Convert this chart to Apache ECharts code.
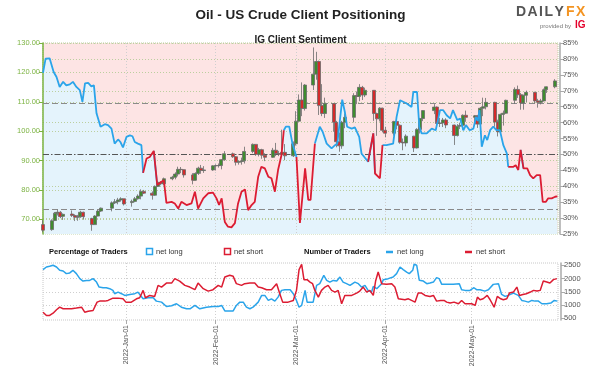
<!DOCTYPE html>
<html><head><meta charset="utf-8">
<script src="https://cdn.jsdelivr.net/npm/echarts@6/dist/echarts.min.js"></script>
<style>html,body{margin:0;padding:0;background:#fff}#c{width:601px;height:373px}</style>
</head><body><div id="c"></div>
<script>
// ---------------- DATA ----------------
const titleText = 'Oil - US Crude Client Positioning';
const subTitleText = 'IG Client Sentiment';
const axisStart = '2021-12-03';
const axisEnd = '2022-05-31';
const monthTicks = ['2022-01-01','2022-02-01','2022-03-01','2022-04-01','2022-05-01'];
const monthTickLabels = ['2022-Jan-01','2022-Feb-01','2022-Mar-01','2022-Apr-01','2022-May-01'];
const priceTicks = [70, 80, 90, 100, 110, 120, 130];
const pctGridTicks = [30, 40, 60, 70, 80];
const traderTicks = [500, 1000, 1500, 2000, 2500];
const traderGridTicks = [1000, 1500, 2000];

const candleDates = [
 '2021-12-03','2021-12-06','2021-12-07','2021-12-08','2021-12-09','2021-12-10','2021-12-13','2021-12-14','2021-12-15','2021-12-16','2021-12-17','2021-12-20','2021-12-21','2021-12-22','2021-12-23','2021-12-27','2021-12-28','2021-12-29','2021-12-30','2021-12-31',
 '2022-01-03','2022-01-04','2022-01-05','2022-01-06','2022-01-07','2022-01-10','2022-01-11','2022-01-12','2022-01-13','2022-01-14','2022-01-17','2022-01-18','2022-01-19','2022-01-20','2022-01-21','2022-01-24','2022-01-25','2022-01-26','2022-01-27','2022-01-28','2022-01-31',
 '2022-02-01','2022-02-02','2022-02-03','2022-02-04','2022-02-07','2022-02-08','2022-02-09','2022-02-10','2022-02-11','2022-02-14','2022-02-15','2022-02-16','2022-02-17','2022-02-18','2022-02-21','2022-02-22','2022-02-23','2022-02-24','2022-02-25','2022-02-28',
 '2022-03-01','2022-03-02','2022-03-03','2022-03-04','2022-03-07','2022-03-08','2022-03-09','2022-03-10','2022-03-11','2022-03-14','2022-03-15','2022-03-16','2022-03-17','2022-03-18','2022-03-21','2022-03-22','2022-03-23','2022-03-24','2022-03-25','2022-03-28','2022-03-29','2022-03-30','2022-03-31',
 '2022-04-01','2022-04-04','2022-04-05','2022-04-06','2022-04-07','2022-04-08','2022-04-11','2022-04-12','2022-04-13','2022-04-14','2022-04-18','2022-04-19','2022-04-20','2022-04-21','2022-04-22','2022-04-25','2022-04-26','2022-04-27','2022-04-28','2022-04-29',
 '2022-05-02','2022-05-03','2022-05-04','2022-05-05','2022-05-06','2022-05-09','2022-05-10','2022-05-11','2022-05-12','2022-05-13','2022-05-16','2022-05-17','2022-05-18','2022-05-19','2022-05-20','2022-05-23','2022-05-24','2022-05-25','2022-05-26','2022-05-27','2022-05-30'
];
const openPx = [
 68.2,66.5,69.6,72.1,72.4,71.0,71.8,71.3,70.7,70.9,72.4,70.3,68.2,71.1,72.8,73.8,75.6,76.0,76.6,77.0,
 75.7,76.1,77.0,77.9,79.5,78.9,78.2,81.2,82.6,82.1,83.8,84.3,85.4,87.0,86.9,85.1,83.3,85.6,87.4,86.6,86.8,
 88.2,88.3,88.3,90.3,92.3,91.3,89.4,89.7,89.9,93.1,95.5,92.1,93.7,91.8,91.1,93.5,92.4,92.1,92.8,91.6,
 95.7,103.4,110.6,107.7,115.7,119.4,123.7,108.7,106.0,109.3,103.0,96.4,95.0,103.0,104.7,112.1,111.8,114.9,112.3,113.9,106.0,104.2,107.8,
 100.3,99.3,103.3,102.0,96.2,96.0,98.3,94.3,100.6,104.3,107.0,108.2,102.6,102.8,103.8,102.1,98.5,101.7,102.0,105.4,
 104.7,105.2,102.4,107.8,108.3,109.8,103.1,99.8,105.7,106.1,110.5,114.2,112.4,109.6,112.2,113.2,110.3,109.8,110.3,114.1,115.1
];
const closePx = [
 66.3,69.5,72.1,72.4,70.9,71.7,71.3,70.7,70.9,72.4,70.9,68.2,71.1,72.8,73.8,75.6,76.0,76.6,77.0,75.2,
 76.1,77.0,77.9,79.5,78.9,78.2,81.2,82.6,82.1,83.8,84.3,85.4,87.0,86.9,85.1,83.3,85.6,87.4,86.6,86.8,88.2,
 88.3,88.3,90.3,92.3,91.3,89.4,89.7,89.9,93.1,95.5,92.1,93.7,91.8,91.1,93.5,92.4,92.1,92.8,91.6,95.7,
 103.4,110.6,107.7,115.7,119.4,123.7,108.7,106.0,109.3,103.0,96.4,95.0,103.0,104.7,112.1,111.8,114.9,112.3,113.9,106.0,104.2,107.8,100.3,
 99.3,103.3,102.0,96.2,96.0,98.3,94.3,100.6,104.3,107.0,108.2,102.6,102.8,103.8,102.1,98.5,101.7,102.0,105.4,104.7,
 105.2,102.4,107.8,108.3,109.8,103.1,99.8,105.7,106.1,110.5,114.2,112.4,109.6,112.2,113.2,110.3,109.8,110.3,114.1,115.1,117.1
];
const lowPx = [
 65.6,66.1,69.4,71.3,70.4,69.8,70.8,69.4,69.5,70.5,69.9,66.1,68.1,71.0,72.5,72.7,75.2,75.1,76.0,74.7,
 74.3,75.8,76.7,76.8,78.6,76.7,78.0,81.0,81.6,81.6,83.3,83.6,84.6,85.7,84.2,81.9,83.1,85.1,85.5,85.8,86.5,
 86.6,87.6,87.0,89.9,90.9,88.3,88.6,88.6,89.0,92.5,91.6,91.4,90.6,89.8,90.9,91.5,91.5,91.9,90.1,91.2,
 95.1,103.2,105.1,107.0,114.0,117.5,105.5,105.1,104.5,99.8,94.5,93.0,94.0,101.0,103.0,109.2,110.2,110.6,111.6,103.5,98.4,103.3,99.6,
 97.9,98.5,100.6,95.7,93.5,94.8,92.9,94.1,99.2,103.4,105.8,101.9,101.4,101.4,101.0,95.3,98.2,100.7,100.5,103.2,
 101.8,101.1,102.3,105.1,107.4,101.5,98.2,99.7,101.9,105.9,109.3,111.3,107.3,107.3,109.9,109.5,108.0,109.1,110.1,113.0,114.6
];
const highPx = [
 69.7,70.0,72.5,73.3,72.8,72.0,73.0,71.7,71.5,72.9,72.6,70.5,71.4,73.2,74.0,76.1,76.9,77.3,77.5,77.0,
 76.7,77.6,78.5,80.2,80.0,79.5,81.5,83.0,83.0,84.2,84.8,86.0,87.9,87.8,87.0,85.7,86.0,87.9,88.5,88.1,88.4,
 88.7,89.0,90.4,93.2,92.7,91.5,90.0,91.0,94.7,95.8,95.6,94.3,94.0,92.5,94.3,96.0,93.3,100.5,95.6,96.5,
 106.8,112.5,116.6,116.0,128.5,127.0,124.0,116.0,111.4,109.5,103.5,99.5,103.5,106.0,112.9,113.5,116.0,115.4,114.8,114.0,106.3,108.2,108.0,
 101.5,103.5,104.4,102.3,97.5,98.9,98.4,101.0,104.5,107.1,109.2,108.4,104.5,104.5,104.4,102.2,102.4,102.9,105.7,107.0,
 105.5,105.5,108.2,111.4,111.3,110.0,103.9,106.0,107.0,110.7,114.9,115.5,113.0,112.4,113.8,113.4,111.0,111.0,114.5,115.2,117.7
];

// net-long share of clients (%), x = days after 2021-12-03
const sentimentDays = [0,0.9,2.3,2.9,3.7,4.7,5.8,7,8.1,9.3,10.4,11.6,12.8,13.7,14.6,15.7,16.8,17.7,18.6,20,21.5,22.6,23.8,24.9,26.1,26.9,27.8,29,30.2,31.1,31.9,33,34.2,34.8,36,37.1,37.7,38.5,39.7,41.2,42,42.9,44.7,45.8,47,48.1,49.9,51.6,52.8,53.9,55.7,57.4,59.1,60.3,61.2,62.1,63.2,64.3,65.5,66.7,67.8,69,70.2,71.3,72.5,73.6,74.8,75.9,77.1,78.3,79.4,80.6,81.7,82.9,83.7,84.4,85.6,86.7,88.1,89.3,89.9,91.1,92.2,93,94.5,95.1,96.2,97.2,98.6,100.3,101.5,102.3,103.2,104,104.9,105.7,107.3,108.4,109.9,110.7,113,114.8,115.4,117.1,118,119.4,121.7,122.9,124.1,126.4,128.1,128.7,129.3,130,130.8,131.6,133.4,135.1,136.5,138,139.1,140.3,141.5,142.5,143.1,144,145,146.1,147,148.3,149.6,150.5,151.1,151.7,152.5,153.6,154.4,155.4,156.5,157.6,158.8,160,161.2,161.7,163.5,164.3,165.2,166,167,168.3,169.3,170.4,171.6,172.8,173.7,174.8,175.6,176.8,178,178.8];
const sentimentPct = [75.6,80.1,80.2,79.6,75.9,74.3,71.2,72.8,71.7,72.0,72.8,71.2,70.2,66.5,72.3,72.5,71.4,71.7,62.9,58.7,59.5,59.2,58.1,53.4,54.7,53.9,52.2,55.5,56.0,55.7,53.9,53.4,52.9,44.2,48.7,49.2,48.7,51.1,40.4,41.4,41.9,34.8,35.1,34.6,33.0,35.1,34.1,34.6,38.3,33.0,36.2,37.8,38.0,36.2,34.1,36.2,28.8,27.3,27.1,28.4,34.6,38.3,39.0,32.5,34.1,35.1,43.0,46.1,45.6,43.0,42.5,38.3,45.1,49.8,57.6,58.7,58.7,53.4,49.2,28.5,28.1,45.6,35.7,35.7,53.4,53.9,58.7,57.1,53.4,51.9,52.9,53.4,60.8,67.2,63.4,58.7,58.1,58.5,55.5,50.3,47.7,56.6,44.0,42.5,52.9,52.9,53.4,61.8,67.0,66.0,64.9,69.6,70.2,69.6,58.7,56.6,56.6,58.1,57.6,63.9,63.9,62.3,61.3,63.9,63.9,60.8,61.3,57.6,59.2,57.6,58.1,61.8,60.5,63.9,52.4,56.0,54.5,57.6,58.7,57.6,57.6,52.9,50.3,46.1,46.1,46.6,45.1,51.4,45.6,45.6,43.5,42.5,43.5,43.5,35.1,35.1,36.2,36.2,36.7,36.8];

// number of traders, x = days after 2021-12-03
const longDays = [0,1.2,2.3,3.5,4.7,5.8,7,8.1,9.3,10.4,11.6,12.8,13.9,15.1,16.2,17.4,18.6,19.5,20.9,22,23.2,24.3,24.9,26.1,27.3,28.4,30.2,31.9,33,33.9,34.8,36.5,38.3,39.4,41.2,42.9,44.7,46.4,48.1,49.9,51.1,52.8,54.5,56.8,59.1,60.9,62.1,63.2,64.9,66.1,67.2,68.4,69.6,70.7,71.9,73,74.8,76,77.1,78.3,79.4,80.6,81.7,82.9,84.1,85.9,87,88.1,89,89.9,91.1,91.8,92.8,93.9,95.1,96.2,97.6,98.6,99.7,100.9,102.1,103.2,104.3,105.5,106.7,108.4,109.6,110.7,111.9,113,114.2,114.8,116,117.7,118.3,120,121.7,122.9,124.1,125.2,126.4,127.3,128.5,129,129.9,130.8,132.2,133.4,134.5,135.7,136.8,137.7,138.6,140.3,142.6,144.7,145.5,146.7,148.4,149.8,150.7,151.9,153.6,154.8,156.5,158.3,159.4,160.6,161.7,163.5,165.2,166.4,167.5,168.7,169.9,171,172.2,173.4,175.1,176.5,177.7,178.8];
const longTraders = [2341,2439,2466,2504,2439,2314,2290,2189,2215,2314,2189,2000,1909,1934,1934,2000,1871,1682,1657,1657,1621,1557,1432,1494,1432,1367,1405,1432,1492,1367,1242,1280,1280,1152,1114,951,976,1053,924,864,864,989,864,924,951,951,989,784,784,784,989,1114,1114,924,864,924,1114,1367,1367,1178,1240,1152,1303,1557,1583,1583,1432,1178,924,989,1557,1114,1114,1114,1746,1811,2125,1934,1871,1934,1909,2061,1871,1811,1746,1871,1811,1682,1746,1557,1494,1708,1621,1811,1962,2000,2061,2189,2440,2341,2250,2189,2314,2541,2504,1936,1909,1811,1833,1871,2038,2000,1784,1784,1784,1811,1583,1557,1557,1657,1583,1583,1530,1583,1784,1811,1405,1330,1367,1455,1367,1178,1152,1114,1178,1152,1152,1053,1053,1078,1178,1152];
const shortDays = [0,1.2,2.3,3.5,4.7,5.8,7,8.1,9.9,11.6,13.4,14.5,15.7,17.4,18.8,19.7,21.5,22.6,24.3,26.1,27.8,28.8,30.7,32.5,33.6,34.8,35.6,37.1,38.8,40,41.2,42.9,44.7,45.8,47.5,49.3,51,52.8,53.9,54.5,55.7,57.4,59.1,60.9,62.1,63.2,64.9,66.1,67.2,69,70.1,71.9,73.6,74.8,76,77.7,79.4,81.2,82.3,83.3,85.2,87,88.1,89,89.9,90.7,91.8,92.8,93.7,94.5,95.7,96.8,98,99.1,100.3,101.5,102.6,103.8,104.9,105.5,107.3,109,110.1,111.3,112.5,113.6,114.8,115.6,116.5,117.7,119.4,121.2,122.3,123.5,124.1,125.8,127,128.1,129.3,130.4,131.6,132.8,134.5,135.7,136.8,138.2,139.4,140.3,141.5,142.9,144.4,145.5,146.7,149,150.2,151,151.9,153,154.4,155.4,156.8,157.9,159.1,160,161.2,162.1,163.5,164.7,165.6,166.8,168,169.4,170.5,171.7,172.8,173.9,175.1,176.2,177.4,178.6];
const shortTraders = [735,610,610,697,826,924,864,864,864,889,924,735,773,798,1114,1152,1152,1178,1265,1265,1240,1114,1114,1240,1280,1557,1280,1367,1330,1746,1682,1833,1833,2000,1909,1746,1682,1583,1833,1811,1621,1530,1583,1746,1682,2061,2125,2087,1811,1746,1811,1833,1833,1682,1657,1583,1583,1811,1432,1114,1114,1178,1557,2341,2541,1962,1962,1871,1811,1557,1303,1557,1682,1746,1557,1494,1557,1053,1367,1303,1367,1455,1530,1682,1494,1557,1367,1909,2250,1811,1785,1811,1682,1242,1204,1204,1240,1178,1114,1455,1455,1367,1330,1367,1152,1178,1178,1114,1078,1114,1053,1178,1053,1053,989,1303,1204,1240,1367,1204,924,1330,1240,1204,1240,1455,1494,1682,1367,1405,1432,1494,1557,1530,1557,1909,1871,1833,1962,2000];

// ---------------- BUILD ----------------
const FONT = 'Liberation Sans, Arial, sans-serif';
const BLUE = '#2aa4ea', RED = '#dc1c32';
const toT = s => new Date(s + 'T00:00:00').getTime();
const baseTime = toT(axisStart);
const endTime = toT(axisEnd);
const dayT = d => baseTime + d * 86400000;
const tickTimes = monthTicks.map(toT);
const pair = (days, vals) => days.map((d, i) => [dayT(d), vals[i]]);

const sentPts = pair(sentimentDays, sentimentPct);
// colour each segment by the side of 50% its starting point is on
const blueLine = sentPts.map((p, i) => (p[1] >= 50 || (i > 0 && sentPts[i-1][1] >= 50)) ? p : [p[0], null]);
const redLine = sentPts.map((p, i) => (p[1] < 50 || (i > 0 && sentPts[i-1][1] < 50)) ? p : [p[0], null]);
const candles = candleDates.map((d, i) => [toT(d), openPx[i], closePx[i], lowPx[i], highPx[i]]);

const chart = echarts.init(document.getElementById('c'), null, {renderer: 'canvas'});
const dottedGreen = {color: '#bccf9f', type: [1, 2], width: 1};
const dottedGray = {color: '#cfcfcf', type: [1, 2], width: 1};

const xBase = (gi, showLabels) => ({
  type: 'value', gridIndex: gi, min: baseTime, max: endTime, scale: true,
  axisLine: {show: false},
  axisTick: {show: showLabels, customValues: tickTimes, length: 4, lineStyle: {color: '#aaa'}},
  axisLabel: {show: showLabels, customValues: tickTimes, rotate: 90, fontSize: 7, color: '#555', fontFamily: FONT, margin: 5,
    formatter: v => { const i = tickTimes.indexOf(v); return i >= 0 ? monthTickLabels[i] : ''; }},
  splitLine: {show: true, lineStyle: dottedGray}, z: 2
});

// logo letters (DAILY grey, FX orange)
const logoLetters = ['D','A','I','L','Y','F','X'];
const logoX = [516, 527.5, 539, 544.5, 554.5, 566, 576];
const logo = logoLetters.map((ch, i) => ({type: 'text', left: logoX[i], top: 5,
  style: {text: ch, fill: i < 5 ? '#555' : '#f39422', font: 'bold 14px ' + FONT}}));

chart.setOption({
  animation: false,
  textStyle: {fontFamily: FONT},
  title: [
    {text: titleText, left: 'center', top: 3, textStyle: {fontSize: 13.5, fontWeight: 'bold', color: '#222', fontFamily: FONT}},
    {text: subTitleText, left: 'center', top: 30, textStyle: {fontSize: 10, fontWeight: 'bold', color: '#222', fontFamily: FONT}}
  ],
  grid: [
    {left: 43, top: 43, width: 515, height: 191, show: true, backgroundColor: '#fde4e4', borderColor: '#bccf9f', borderWidth: 1, borderType: 'dotted'},
    {left: 43, top: 263, width: 515, height: 57, show: true, backgroundColor: '#fff', borderColor: '#c8c8c8', borderWidth: 1, borderType: 'dotted'}
  ],
  xAxis: [xBase(0, false), xBase(1, true)],
  yAxis: [
    {type: 'value', gridIndex: 0, position: 'left', min: 65, max: 130, z: 2,
     axisLine: {show: true, lineStyle: {color: '#7cb342', width: 1.5}},
     axisTick: {show: true, customValues: priceTicks, length: 4, lineStyle: {color: '#7cb342'}},
     axisLabel: {customValues: priceTicks, color: '#7cb342', fontSize: 7.5, margin: 3, formatter: v => v.toFixed(2)},
     splitLine: {show: true, lineStyle: dottedGreen}},
    {type: 'value', gridIndex: 0, position: 'right', min: 25, max: 85, interval: 5, offset: 2, z: 2,
     axisLine: {show: true, lineStyle: {color: '#aaa', width: 1.5}},
     axisTick: {show: true, length: 4, lineStyle: {color: '#aaa'}},
     axisLabel: {color: '#555', fontSize: 7.5, margin: 3, formatter: '{value}%'},
     splitLine: {show: false}},
    {type: 'value', gridIndex: 0, position: 'right', min: 25, max: 85, z: 2,
     axisLine: {show: false}, axisTick: {show: false, customValues: pctGridTicks},
     axisLabel: {show: false, customValues: pctGridTicks}, splitLine: {show: true, lineStyle: dottedGreen}},
    {type: 'value', gridIndex: 1, position: 'right', min: 440, max: 2590, offset: 3, z: 2,
     axisLine: {show: true, lineStyle: {color: '#aaa', width: 1.5}},
     axisTick: {show: true, customValues: traderTicks, length: 4, lineStyle: {color: '#aaa'}},
     axisLabel: {customValues: traderTicks, color: '#555', fontSize: 7.5, margin: 3, formatter: v => String(v)},
     splitLine: {show: false}},
    {type: 'value', gridIndex: 1, position: 'left', min: 440, max: 2590, z: 2,
     axisLine: {show: false}, axisTick: {show: false, customValues: traderGridTicks},
     axisLabel: {show: false, customValues: traderGridTicks}, splitLine: {show: true, lineStyle: dottedGray}}
  ],
  series: [
    {type: 'line', name: 'area', xAxisIndex: 0, yAxisIndex: 1, data: sentPts, showSymbol: false, silent: true, z: 1,
     lineStyle: {width: 0, opacity: 0}, areaStyle: {color: '#e4f3fc', opacity: 1}},
    {type: 'candlestick', xAxisIndex: 0, yAxisIndex: 0, data: candles, encode: {x: 0, y: [1, 2, 3, 4]}, barWidth: 3.5, z: 3, silent: true,
     itemStyle: {color: '#3f8c2f', color0: '#d42a2a', borderColor: '#6b6b6b', borderColor0: '#6b6b6b', borderWidth: 0.8}},
    {type: 'line', name: 'long', xAxisIndex: 0, yAxisIndex: 1, data: blueLine, showSymbol: false, connectNulls: false, z: 4, silent: true,
     lineStyle: {color: BLUE, width: 1.8}, itemStyle: {color: BLUE},
     markLine: {silent: true, symbol: 'none', label: {show: false}, z: 3, data: [
       {yAxis: 50, lineStyle: {color: '#555', type: [6, 2, 1.5, 2], width: 1}},
       {yAxis: 66.2, lineStyle: {color: '#8a8a8a', type: [6, 3], width: 1}},
       {yAxis: 32.8, lineStyle: {color: '#8a8a8a', type: [6, 3], width: 1}}
     ]}},
    {type: 'line', name: 'short', xAxisIndex: 0, yAxisIndex: 1, data: redLine, showSymbol: false, connectNulls: false, z: 4, silent: true,
     lineStyle: {color: RED, width: 1.8}, itemStyle: {color: RED}},
    {type: 'line', name: 'nlong', xAxisIndex: 1, yAxisIndex: 3, data: pair(longDays, longTraders), showSymbol: false, z: 4, silent: true,
     lineStyle: {color: BLUE, width: 1.5}},
    {type: 'line', name: 'nshort', xAxisIndex: 1, yAxisIndex: 3, data: pair(shortDays, shortTraders), showSymbol: false, z: 4, silent: true,
     lineStyle: {color: RED, width: 1.5}}
  ],
  graphic: logo.concat([
    {type: 'text', left: 540, top: 23, style: {text: 'provided by', fill: '#777', font: '6px ' + FONT}},
    {type: 'text', left: 575, top: 20, style: {text: 'IG', fill: '#e4002b', font: 'bold 10px ' + FONT}},
    {type: 'text', left: 49, top: 248, style: {text: 'Percentage of Traders', fill: '#111', font: 'bold 7.5px ' + FONT}},
    {type: 'rect', shape: {x: 146.5, y: 248.5, width: 6, height: 6}, style: {fill: '#fff', stroke: BLUE, lineWidth: 1.5}},
    {type: 'text', left: 156, top: 248, style: {text: 'net long', fill: '#333', font: '7.5px ' + FONT}},
    {type: 'rect', shape: {x: 224.5, y: 248.5, width: 6, height: 6}, style: {fill: '#fff', stroke: RED, lineWidth: 1.5}},
    {type: 'text', left: 234, top: 248, style: {text: 'net short', fill: '#333', font: '7.5px ' + FONT}},
    {type: 'text', left: 304, top: 248, style: {text: 'Number of Traders', fill: '#111', font: 'bold 7.5px ' + FONT}},
    {type: 'line', shape: {x1: 386, y1: 252, x2: 393, y2: 252}, style: {stroke: BLUE, lineWidth: 2.5}},
    {type: 'text', left: 397, top: 248, style: {text: 'net long', fill: '#333', font: '7.5px ' + FONT}},
    {type: 'line', shape: {x1: 465, y1: 252, x2: 472, y2: 252}, style: {stroke: RED, lineWidth: 2.5}},
    {type: 'text', left: 476, top: 248, style: {text: 'net short', fill: '#333', font: '7.5px ' + FONT}}
  ])
});
</script></body></html>
